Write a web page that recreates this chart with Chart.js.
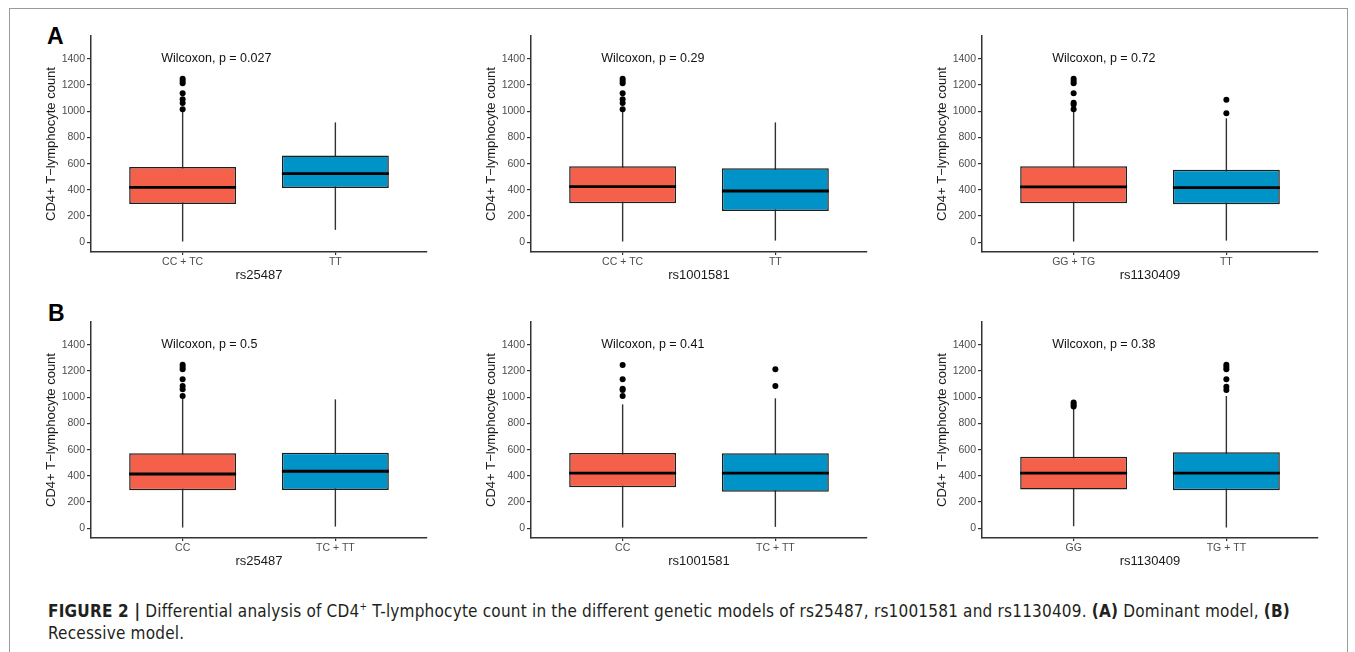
<!DOCTYPE html>
<html>
<head>
<meta charset="utf-8">
<script src="https://cdn.jsdelivr.net/npm/chart.js@4.4.0/dist/chart.umd.min.js"></script>
<style>
  body { margin: 0; background: #fff; width: 1355px; height: 652px; overflow: hidden; position: relative; font-family: 'Liberation Sans', Arial, sans-serif; }
  #frame { position: absolute; left: 9px; top: 8px; width: 1337px; height: 700px; border: 1.5px solid #9a9a9a; }
  canvas { position: absolute; }
  .tag { position: absolute; font-weight: bold; font-size: 23px; line-height: 22px; color: #000; }
  #caption { position: absolute; left: 48px; top: 600px; width: 1262px; font-family: 'Liberation Sans Narrow', 'DejaVu Sans Condensed', sans-serif; font-size: 17px; letter-spacing: 0.2px; line-height: 22px; color: #231f20; }
  #caption sup { font-size: 10px; line-height: 0; }
</style>
</head>
<body>
<div id="frame"></div>
<div class="tag" style="left:47px;top:25px">A</div>
<div class="tag" style="left:48px;top:302px">B</div>
<canvas id="a1" width="392" height="266"></canvas>
<canvas id="a2" width="392" height="266"></canvas>
<canvas id="a3" width="392" height="266"></canvas>
<canvas id="b1" width="392" height="266"></canvas>
<canvas id="b2" width="392" height="266"></canvas>
<canvas id="b3" width="392" height="266"></canvas>
<div id="caption"><b>FIGURE 2 |</b> Differential analysis of CD4<sup>+</sup> T-lymphocyte count in the different genetic models of rs25487, rs1001581 and rs1130409. <b>(A)</b> Dominant model, <b>(B)</b> Recessive model.</div>

<script>
// values
const snps = ['rs25487', 'rs1001581', 'rs1130409'];
const dominantGroups = [['CC + TC', 'TT'], ['CC + TC', 'TT'], ['GG + TG', 'TT']];
const recessiveGroups = [['CC', 'TC + TT'], ['CC', 'TC + TT'], ['GG', 'TG + TT']];
const dominantP = ['0.027', '0.29', '0.72'];
const recessiveP = ['0.5', '0.41', '0.38'];

// [lower whisker, q1, median, q3, upper whisker]
const dominantBoxes = [
  [[5, 292, 419, 574, 995], [94, 414, 523, 663, 915]],
  [[5, 297, 424, 580, 995], [12, 239, 391, 564, 915]],
  [[5, 297, 422, 580, 995], [12, 290, 417, 554, 946]],
];
const dominantOutliers = [
  [[1248, 1232, 1215, 1137, 1091, 1063, 1015], []],
  [[1248, 1232, 1215, 1137, 1091, 1063, 1015], []],
  [[1248, 1232, 1215, 1137, 1065, 1052, 1015], [1088, 984]],
];
const recessiveBoxes = [
  [[5, 290, 414, 572, 1000], [12, 292, 435, 577, 984]],
  [[5, 313, 420, 574, 946], [10, 279, 420, 572, 992]],
  [[15, 295, 420, 546, 920], [5, 290, 420, 580, 1010]],
];
const recessiveOutliers = [
  [[1248, 1232, 1215, 1137, 1086, 1061, 1010], []],
  [[1246, 1137, 1065, 1055, 1010], [1215, 1086]],
  [[960, 945, 930], [1248, 1232, 1215, 1137, 1081, 1055]],
];
const yTicks = [0, 200, 400, 600, 800, 1000, 1200, 1400];
const boxColors = ['#F4604A', '#0093C7'];

Chart.defaults.font.family = "'Liberation Sans', Arial, sans-serif";
Chart.defaults.animation = false;

const colLeft = [41, 481, 932];
const rowTop = [26, 312];

function boxPlugin(boxes, pText) {
  return {
    id: 'boxLines',
    beforeDatasetsDraw(chart) {
      const { ctx, scales: { x, y } } = chart;
      ctx.save();
      ctx.strokeStyle = '#333';
      ctx.lineWidth = 1.4;
      boxes.forEach((b, i) => {
        const px = x.getPixelForValue(i + 1);
        ctx.beginPath();
        ctx.moveTo(px, y.getPixelForValue(b[0]));
        ctx.lineTo(px, y.getPixelForValue(b[4]));
        ctx.stroke();
      });
      ctx.restore();
    },
    afterDatasetsDraw(chart) {
      const { ctx, scales: { x, y } } = chart;
      const bars = chart.getDatasetMeta(1).data;
      ctx.save();
      ctx.strokeStyle = '#000';
      ctx.lineWidth = 2.8;
      boxes.forEach((b, i) => {
        const bar = bars[i];
        const py = y.getPixelForValue(b[2]);
        ctx.beginPath();
        ctx.moveTo(bar.x - bar.width / 2, py);
        ctx.lineTo(bar.x + bar.width / 2, py);
        ctx.stroke();
      });
      ctx.fillStyle = '#111';
      ctx.font = "12.5px 'Liberation Sans', Arial, sans-serif";
      ctx.textAlign = 'left';
      ctx.textBaseline = 'middle';
      ctx.fillText('Wilcoxon, p = ' + pText, x.getPixelForValue(0.86), y.getPixelForValue(1400));
      ctx.restore();
    },
  };
}

function makePanel(id, col, row, groups, boxes, outliers, snp, pText) {
  const canvas = document.getElementById(id);
  canvas.style.left = colLeft[col] + 'px';
  canvas.style.top = rowTop[row] + 'px';

  const points = [];
  outliers.forEach((list, i) => list.forEach(v => points.push({ x: i + 1, y: v })));

  new Chart(canvas, {
    type: 'bar',
    data: {
      datasets: [
        {
          type: 'scatter',
          data: points,
          pointRadius: 3,
          pointBackgroundColor: '#000',
          pointBorderWidth: 0,
          order: 0,
        },
        {
          data: boxes.map((b, i) => ({ x: i + 1, y: [b[1], b[3]] })),
          backgroundColor: boxColors,
          borderColor: '#1e1e1e',
          borderWidth: 1.5,
          borderSkipped: false,
          categoryPercentage: 1,
          barPercentage: 0.7,
          order: 1,
        },
      ],
    },
    options: {
      responsive: false,
      animation: false,
      layout: { padding: { top: 10, right: 6, left: 0, bottom: 0 } },
      plugins: { legend: { display: false }, tooltip: { enabled: false } },
      events: [],
      scales: {
        x: {
          type: 'linear',
          min: 0.4,
          max: 2.6,
          offset: false,
          afterBuildTicks: axis => { axis.ticks = [{ value: 1 }, { value: 2 }]; },
          afterFit: axis => { axis.height = 40; },
          ticks: {
            callback: (v, i) => groups[i],
            color: '#4d4d4d',
            font: { size: 10.5 },
            padding: 1,
            maxRotation: 0,
          },
          grid: { drawOnChartArea: false, offset: false, tickLength: 3, color: '#333', lineWidth: 1.2 },
          border: { color: '#333', width: 1.5 },
          title: { display: true, text: snp, color: '#1a1a1a', font: { size: 13 }, padding: { top: 0, bottom: 9 } },
        },
        y: {
          min: -75,
          max: 1575,
          afterBuildTicks: axis => { axis.ticks = yTicks.map(v => ({ value: v })); },
          afterFit: axis => { axis.width = 50; },
          ticks: { callback: v => String(v), color: '#4d4d4d', font: { size: 10.5 }, padding: 2 },
          grid: { drawOnChartArea: false, tickLength: 4, color: '#333', lineWidth: 1.2 },
          border: { color: '#333', width: 1.5 },
          title: { display: true, text: 'CD4+ T\u2212lymphocyte count', color: '#1a1a1a', font: { size: 13 }, padding: { top: 3, bottom: 0 } },
        },
      },
    },
    plugins: [boxPlugin(boxes, pText)],
  });
}

['a1', 'a2', 'a3'].forEach((id, c) =>
  makePanel(id, c, 0, dominantGroups[c], dominantBoxes[c], dominantOutliers[c], snps[c], dominantP[c]));
['b1', 'b2', 'b3'].forEach((id, c) =>
  makePanel(id, c, 1, recessiveGroups[c], recessiveBoxes[c], recessiveOutliers[c], snps[c], recessiveP[c]));
</script>
</body>
</html>
